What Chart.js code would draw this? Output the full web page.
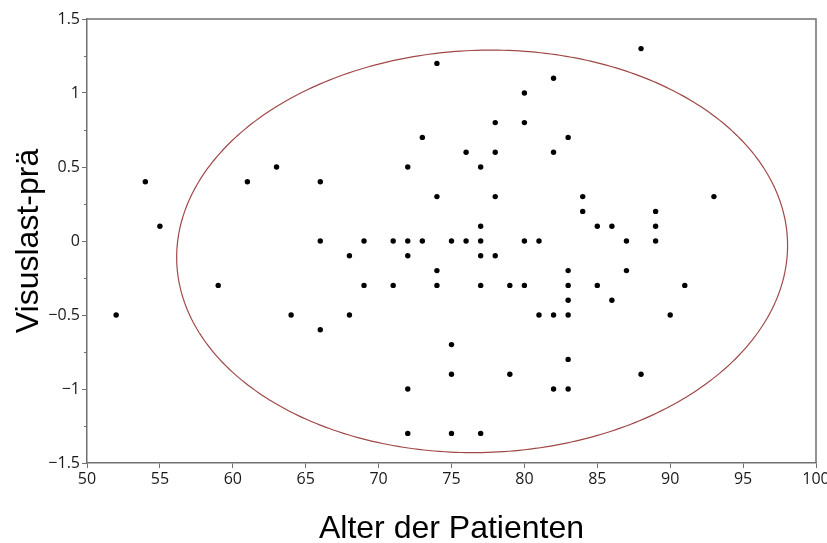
<!DOCTYPE html>
<html>
<head>
<meta charset="utf-8">
<script src="https://cdn.jsdelivr.net/npm/chart.js@4"></script>
<style>
html,body{margin:0;padding:0;background:#fff;}
#wrap{width:827px;height:543px;}
</style>
</head>
<body>
<div id="wrap"><canvas id="c" width="827" height="543"></canvas></div>
<script>
// Data
const ages  = [52,54,55,59,61,63,64,66,66,66,68,68,69,69,71,71,72,72,72,72,72,73,73,74,74,74,74,75,75,75,75,76,76,77,77,77,77,77,77,78,78,78,78,79,79,80,80,80,80,81,81,82,82,82,82,83,83,83,83,83,83,83,84,84,85,85,86,86,87,87,88,88,89,89,89,90,91,93];
const visus = [-0.5,0.4,0.1,-0.3,0.4,0.5,-0.5,0.4,0,-0.6,-0.1,-0.5,0,-0.3,0,-0.3,0.5,0,-0.1,-1.0,-1.3,0.7,0,1.2,0.3,-0.2,-0.3,0,-0.7,-0.9,-1.3,0.6,0,0.5,0.1,0,-0.1,-0.3,-1.3,0.8,0.6,0.3,-0.1,-0.3,-0.9,1.0,0.8,0,-0.3,0,-0.5,1.1,0.6,-0.5,-1.0,0.7,-0.2,-0.3,-0.4,-0.5,-0.8,-1.0,0.3,0.2,0.1,-0.3,0.1,-0.4,0,-0.2,1.3,-0.9,0.2,0.1,0,-0.5,-0.3,0.3];
const xTicks = [50,55,60,65,70,75,80,85,90,95,100];
const yTicks = [-1.5,-1,-0.5,0,0.5,1,1.5];
const yMinorTicks = [-1.25,-0.75,-0.25,0.25,0.75,1.25];
// density ellipse (centre, semi-axes, small tilt/shear in y)
const ellipseCenter = [77.1, -0.07];
const ellipseRadii = [20.95, 1.36];
const ellipseShear = 0.04;

const points = ages.map((a,i)=>({x:a,y:visus[i]}));
const AXIS = '#707070';

function fmtY(v){
  const s = String(Math.abs(v));
  return v < 0 ? '\u2212' + s : s;
}

const framePlugin = {
  id:'frame',
  beforeDatasetsDraw(chart){
    const {ctx, scales:{x,y}} = chart;
    ctx.save();
    ctx.strokeStyle = '#a04848';
    ctx.lineWidth = 1.2;
    ctx.beginPath();
    const bb = Math.sqrt(ellipseRadii[1]*ellipseRadii[1] - ellipseShear*ellipseShear);
    for(let k=0;k<=360;k++){
      const t = k*Math.PI/180;
      const vx = ellipseCenter[0] + ellipseRadii[0]*Math.cos(t);
      const vy = ellipseCenter[1] + ellipseShear*Math.cos(t) + bb*Math.sin(t);
      const px = x.getPixelForValue(vx), py = y.getPixelForValue(vy);
      if(k===0) ctx.moveTo(px,py); else ctx.lineTo(px,py);
    }
    ctx.closePath();
    ctx.stroke();
    ctx.restore();
  },
  afterDraw(chart){
    const {ctx, chartArea:a, scales:{y}} = chart;
    ctx.save();
    ctx.strokeStyle = AXIS;
    ctx.lineWidth = 1.5;
    ctx.beginPath();
    ctx.moveTo(a.left, a.top); ctx.lineTo(a.right, a.top); ctx.lineTo(a.right, a.bottom);
    ctx.stroke();
    ctx.lineWidth = 1;
    ctx.beginPath();
    yMinorTicks.forEach(v=>{
      const py = Math.round(y.getPixelForValue(v))+0.5;
      ctx.moveTo(a.left-3, py); ctx.lineTo(a.left, py);
    });
    ctx.stroke();
    ctx.restore();
  }
};

new Chart(document.getElementById('c'), {
  type:'scatter',
  data:{datasets:[{
    data: points,
    backgroundColor:'#000',
    borderColor:'#000',
    pointRadius:2.7,
    pointHoverRadius:2.7,
    borderWidth:0
  }]},
  options:{
    responsive:false,
    animation:false,
    events:[],
    layout:{padding:{top:19,right:11,left:0,bottom:0}},
    plugins:{legend:{display:false},tooltip:{enabled:false}},
    scales:{
      x:{
        type:'linear', min:50, max:100,
        afterBuildTicks(s){ s.ticks = xTicks.map(v=>({value:v})); },
        afterFit(s){ s.height = 80; s.paddingLeft = 0; s.paddingRight = 0; },
        ticks:{ font:{family:'Open Sans', size:16}, color:'#1a1a1a', padding:2, maxRotation:0, autoSkip:false,
          callback:(v)=>String(v) },
        grid:{ drawOnChartArea:false, drawTicks:true, tickLength:5, color:AXIS, lineWidth:1 },
        border:{ color:AXIS, width:1.5 },
        title:{ display:true, text:'Alter der Patienten', color:'#000',
          font:{family:'Liberation Sans', size:32, lineHeight:0.875}, padding:{top:0,bottom:0} }
      },
      y:{
        type:'linear', min:-1.5, max:1.5,
        afterBuildTicks(s){ s.ticks = yTicks.map(v=>({value:v})); },
        afterFit(s){ s.width = 87; s.paddingTop = 0; s.paddingBottom = 0; },
        ticks:{ font:{family:'Open Sans', size:16}, color:'#1a1a1a', padding:2, autoSkip:false,
          callback:(v)=>fmtY(v) },
        grid:{ drawOnChartArea:false, drawTicks:true, tickLength:5, color:AXIS, lineWidth:1 },
        border:{ color:AXIS, width:1.5 },
        title:{ display:true, text:'Visuslast-prä', color:'#000',
          font:{family:'Liberation Sans', size:32, lineHeight:0.875}, padding:{top:15,bottom:0} }
      }
    }
  },
  plugins:[framePlugin]
});
</script>
</body>
</html>
